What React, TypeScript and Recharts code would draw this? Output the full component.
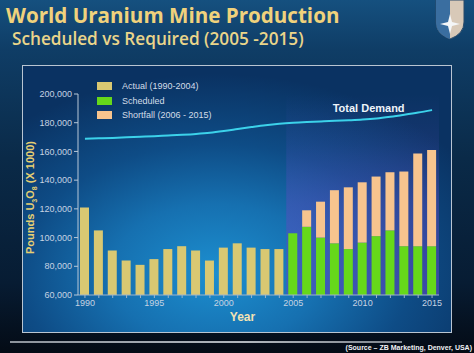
import React from 'react'
import {
  ComposedChart,
  Bar,
  Line,
  XAxis,
  YAxis,
  ReferenceArea,
} from 'recharts'

// Years on the category axis
const years = [
  '1990', '1991', '1992', '1993', '1994', '1995', '1996', '1997', '1998', '1999',
  '2000', '2001', '2002', '2003', '2004', '2005', '2006', '2007', '2008', '2009',
  '2010', '2011', '2012', '2013', '2014', '2015',
]

// Pounds U3O8 (x 1000)
const actual = [
  121000, 105000, 91000, 84000, 81000, 85000, 92000, 94000, 91000, 84000,
  93000, 96000, 93000, 92000, 92000, null, null, null, null, null,
  null, null, null, null, null, null,
]
const scheduled = [
  null, null, null, null, null, null, null, null, null, null,
  null, null, null, null, null, 103000, 107500, 100000, 96000, 92000,
  96500, 101000, 105000, 94000, 94000, 94000,
]
const shortfall = [
  null, null, null, null, null, null, null, null, null, null,
  null, null, null, null, null, null, 11500, 25000, 37000, 43000,
  42000, 41500, 40500, 52000, 64500, 67000,
]
const totalDemand = [
  168800, 169100, 169400, 169800, 170200, 170600, 171100, 171600, 172200, 173000,
  174200, 175600, 177000, 178300, 179300, 180000, 180500, 180900, 181300, 181700,
  182200, 183000, 184200, 185600, 187100, 188800,
]

const yTicks = [60000, 80000, 100000, 120000, 140000, 160000, 180000, 200000]

const legendItems = [
  { label: 'Actual (1990-2004)', color: '#d9c872' },
  { label: 'Scheduled', color: '#66d81a' },
  { label: 'Shortfall (2006 - 2015)', color: '#f7c48e' },
]

const data = years.map((year, i) => ({
  year,
  actual: actual[i],
  scheduled: scheduled[i],
  shortfall: shortfall[i],
  demand: totalDemand[i],
}))

const tickStyle = { fill: '#c6d3e2', fontSize: 9, fontFamily: 'Liberation Sans, Arial, sans-serif' }

function YLabel({ viewBox }: any) {
  const cx = viewBox.x + 34
  const cy = viewBox.y + viewBox.height / 2 + 3
  return (
    <text
      x={cx}
      y={cy}
      transform={`rotate(-90 ${cx} ${cy})`}
      textAnchor="middle"
      fill="#e6cf72"
      fontSize={11}
      fontWeight={700}
      fontFamily="Liberation Sans, Arial, sans-serif"
    >
      Pounds U
      <tspan fontSize={7} dy={3}>3</tspan>
      <tspan dy={-3}>O</tspan>
      <tspan fontSize={7} dy={3}>8</tspan>
      <tspan dy={-3}> (X 1000)</tspan>
    </text>
  )
}

function XLabel({ viewBox }: any) {
  return (
    <text
      x={viewBox.x + viewBox.width / 2 - 16}
      y={viewBox.y + 26}
      textAnchor="middle"
      fill="#f2e2b4"
      fontSize={12}
      fontWeight={700}
      fontFamily="Liberation Sans, Arial, sans-serif"
    >
      Year
    </text>
  )
}

function DemandLabel({ x, y, index }: any) {
  if (index !== 20) return null
  return (
    <text
      x={x + 6}
      y={y - 8}
      textAnchor="middle"
      fill="#eef4fa"
      fontSize={11}
      fontWeight={700}
      fontFamily="Liberation Sans, Arial, sans-serif"
    >
      Total Demand
    </text>
  )
}

export default function App() {
  return (
    <div
      style={{
        position: 'absolute',
        left: 0,
        top: 0,
        width: 474,
        height: 353,
        overflow: 'hidden',
        background:
          'linear-gradient(180deg, #15507f 0%, #0f3d66 14%, #0a2a48 45%, #071c33 80%, #040b15 100%)',
      }}
    >
      {/* title */}
      <div
        style={{
          position: 'absolute',
          left: 6,
          top: 1,
          color: '#f0d27c',
          fontFamily: 'Open Sans, sans-serif',
          fontWeight: 700,
          fontSize: 20.6,
          whiteSpace: 'nowrap',
        }}
      >
        World Uranium Mine Production
      </div>
      <div
        style={{
          position: 'absolute',
          left: 12,
          top: 27,
          color: '#ead58a',
          fontFamily: 'Open Sans, sans-serif',
          fontWeight: 600,
          fontSize: 17.2,
          whiteSpace: 'nowrap',
        }}
      >
        Scheduled vs Required (2005 -2015)
      </div>

      {/* logo shield */}
      <svg style={{ position: 'absolute', left: 434, top: 0 }} width={32} height={40}>
        <path d="M2 0 L30 0 L30 22 Q30 34 16 39 Q2 34 2 22 Z" fill="#d8c9b8" stroke="#2a4a6a" strokeWidth={1} />
        <path d="M2 0 L16 0 L16 39 Q2 34 2 22 Z" fill="#3a6ea0" />
        <path d="M16 14 L18 22 L26 24 L18 26 L16 34 L14 26 L6 24 L14 22 Z" fill="#f4f6f8" />
      </svg>

      {/* plot panel */}
      <div
        style={{
          position: 'absolute',
          left: 22,
          top: 65,
          width: 428,
          height: 266,
          border: '1.5px solid #b9c5d2',
          background:
            'radial-gradient(ellipse 70% 75% at 45% 78%, #1c8fd0 0%, #1670b0 35%, #0e4c86 65%, #0a3262 100%)',
        }}
      />

      {/* legend */}
      <div style={{ position: 'absolute', left: 97, top: 79 }}>
        {legendItems.map((item) => (
          <div key={item.label} style={{ display: 'flex', alignItems: 'center', height: 14.5 }}>
            <div style={{ width: 15, height: 8, background: item.color, marginRight: 10 }} />
            <span
              style={{
                color: '#d3dde8',
                fontSize: 9,
                fontFamily: 'Liberation Sans, Arial, sans-serif',
                whiteSpace: 'nowrap',
              }}
            >
              {item.label}
            </span>
          </div>
        ))}
      </div>

      <div style={{ position: 'absolute', left: 0, top: 0 }}>
        <ComposedChart
          width={474}
          height={353}
          data={data}
          margin={{ top: 94, right: 35, bottom: 28, left: 0 }}
          barSize={9}
        >
          <defs>
            <linearGradient id="futureShade" x1="0" y1="0" x2="0" y2="1">
              <stop offset="0%" stopColor="#5a4cc0" stopOpacity={0} />
              <stop offset="25%" stopColor="#5a4cc0" stopOpacity={0.15} />
              <stop offset="55%" stopColor="#5a4cc0" stopOpacity={0.45} />
              <stop offset="100%" stopColor="#5a4cc0" stopOpacity={0.6} />
            </linearGradient>
          </defs>
          <ReferenceArea x1="2005" x2="2015" fill="url(#futureShade)" fillOpacity={1} ifOverflow="hidden" />
          <XAxis
            dataKey="year"
            interval={0}
            height={30}
            tick={tickStyle}
            tickSize={3}
            tickFormatter={(v) => (Number(v) % 5 === 0 ? v : '')}
            axisLine={{ stroke: '#9fb4c8' }}
            tickLine={{ stroke: '#9fb4c8' }}
            label={<XLabel />}
          />
          <YAxis
            width={78}
            domain={[60000, 200000]}
            ticks={yTicks}
            allowDataOverflow
            tick={tickStyle}
            tickSize={4}
            tickFormatter={(v) => v.toLocaleString('en-US')}
            axisLine={{ stroke: '#b8c8d8' }}
            tickLine={{ stroke: '#b8c8d8' }}
            label={<YLabel />}
          />
          <Bar dataKey="actual" stackId="a" fill="#d9c872" isAnimationActive={false} />
          <Bar dataKey="scheduled" stackId="a" fill="#66d81a" isAnimationActive={false} />
          <Bar dataKey="shortfall" stackId="a" fill="#f7c48e" isAnimationActive={false} />
          <Line
            type="monotone"
            dataKey="demand"
            stroke="#3cd2ea"
            strokeWidth={2}
            dot={false}
            label={<DemandLabel />}
            isAnimationActive={false}
          />
        </ComposedChart>
      </div>

      {/* footer */}
      <div
        style={{
          position: 'absolute',
          left: 10,
          top: 341,
          width: 392,
          height: 2,
          background: 'linear-gradient(90deg, #8c939c, #b0b6bd 60%, #7d848c)',
        }}
      />
      <div
        style={{
          position: 'absolute',
          right: 2,
          top: 344,
          color: '#f0f2f5',
          fontSize: 7,
          fontWeight: 700,
          fontFamily: 'Liberation Sans, Arial, sans-serif',
          whiteSpace: 'nowrap',
        }}
      >
        (Source – ZB Marketing, Denver, USA)
      </div>
    </div>
  )
}
